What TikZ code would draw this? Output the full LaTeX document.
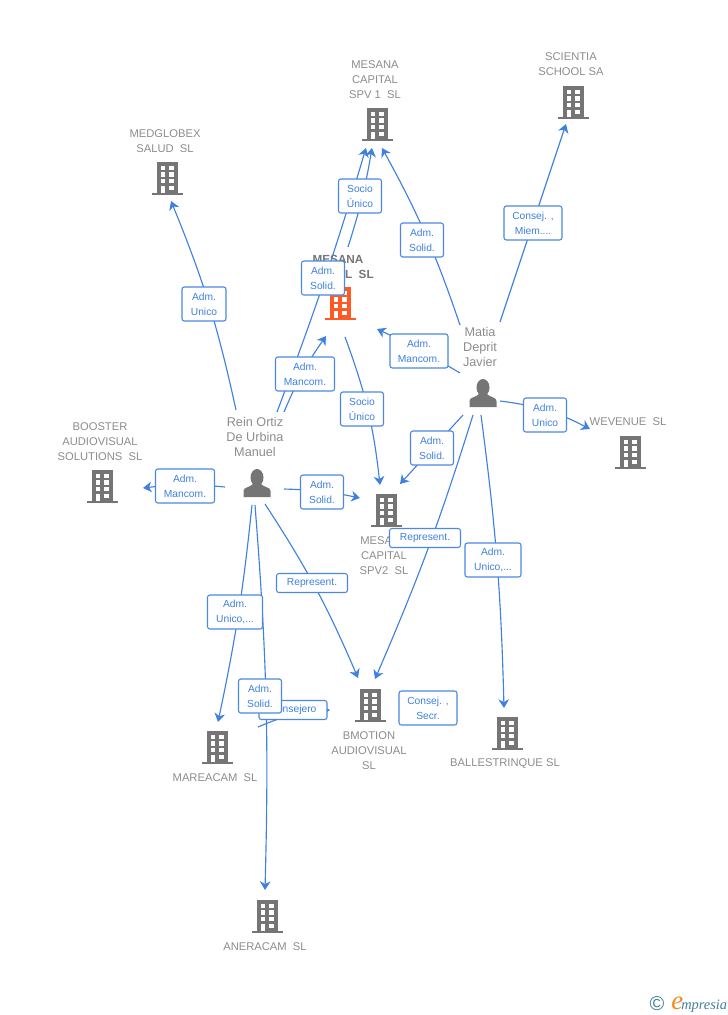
\documentclass[tikz,border=0pt]{standalone}
\usepackage{fontspec}
\setmainfont{Liberation Sans}
\newfontfamily\logoserif{Liberation Serif}
\usetikzlibrary{arrows.meta}
\definecolor{iconGray}{HTML}{757575}
\definecolor{nameGray}{HTML}{8C8C8C}
\definecolor{linkBlue}{HTML}{3F80E0}
\definecolor{boxBlue}{HTML}{4A88E2}
\definecolor{mainOrange}{HTML}{FF5A26}
\definecolor{logoTeal}{HTML}{3E7F9C}
\definecolor{logoOrange}{HTML}{F08A1E}
\tikzset{
    bldgnode/.style={minimum width=23.25pt, minimum height=25.5pt, inner sep=0pt},
    persnode/.style={minimum width=21pt, minimum height=21pt, inner sep=0pt},
    nametxt/.style={text=nameGray, align=center, inner sep=0pt, font=\fontsize{8.4}{11.25}\selectfont},
    perstxt/.style={text=nameGray, align=center, inner sep=0pt, font=\fontsize{9.5}{11.25}\selectfont},
    maintxt/.style={text=iconGray, align=center, inner sep=0pt, font=\fontsize{8.8}{11.25}\selectfont\bfseries},
    link/.style={draw=linkBlue, line width=.85pt, -{Stealth[length=6.5pt,width=8pt,inset=2pt]}},
    rolebox/.style={draw=boxBlue, fill=white, line width=.8pt, rounded corners=1.8pt, inner sep=0pt, align=center,
        text=linkBlue, minimum width=#1*.75pt, minimum height=25.5pt, font=\fontsize{7.7}{11.25}\selectfont},
    rolebar/.style={rolebox=#1, minimum height=14.25pt},
    pics/bldg/.style={code={
        \fill[#1] (-15.5,14.5) rectangle (15.5,17);
        \fill[#1] (-10.5,-16) rectangle (10.5,14.5);
        \foreach \wy in {-12.5,-5.7,1} {
            \fill[white] (-6.4,\wy) rectangle ++(4.4,4.4);
            \fill[white] (2.3,\wy) rectangle ++(4.4,4.4);
        }
        \fill[white] (-6.4,7.7) rectangle (-2,14.5);
        \fill[white] (2.3,7.7) rectangle ++(4.4,4.4);
    }},
    pics/pers/.style={code={
        \fill[iconGray] (0,-5.5) ellipse (6.5 and 8.5);
        \fill[iconGray] (-13.5,14) -- (-13.5,8) .. controls (-13.5,4) and (-7,4.5) .. (-4,1)
            -- (4,1) .. controls (7,4.5) and (13.5,4) .. (13.5,8) -- (13.5,14) -- cycle;
    }},
}
\begin{document}
\begin{tikzpicture}[x=.75pt, y=-.75pt]
    \useasboundingbox (0,0) rectangle (728,1015);
    % Companies and persons
    \foreach \nam/\px/\py in {medglobex/167/178, spvone/377/124, scientia/573/102, booster/102/486, wevenue/630/452,
        spvtwo/386/510, bmotion/370/705, ballest/507/733, mareacam/217/747, aneracam/267/916} {
        \node[bldgnode] (\nam) at (\px,\py) {};
        \pic at (\px,\py) {bldg=iconGray};
    }
    \node[bldgnode] (mesana) at (340,303) {};
    \pic at (340,303) {bldg=mainOrange};
    \node[persnode] (rein) at (257,483) {};
    \pic at (257,483) {pers};
    \node[persnode] (matia) at (483,393) {};
    \pic at (483,393) {pers};

    % Names
    \node[nametxt] (spvonetxt) at (375,80) {MESANA\\CAPITAL\\SPV 1~ SL};
    \node[nametxt] (scientiatxt) at (571,64.5) {SCIENTIA\\SCHOOL SA};
    \node[nametxt] (medglobextxt) at (165,141.5) {MEDGLOBEX\\SALUD~ SL};
    \node[maintxt] (mesanatxt) at (338,266.5) {MESANA\\CAPITAL~ SL};
    \node[perstxt] (reintxt) at (255,437) {Rein Ortiz\\De Urbina\\Manuel};
    \node[perstxt] (matiatxt) at (480,347) {Matia\\Deprit\\Javier};
    \node[nametxt] (boostertxt) at (100,442) {BOOSTER\\AUDIOVISUAL\\SOLUTIONS~ SL};
    \node[nametxt] (wevenuetxt) at (628,422) {WEVENUE~ SL};
    \node[nametxt] (spvtwotxt) at (384,556) {MESANA\\CAPITAL\\SPV2~ SL};
    \node[nametxt] (bmotiontxt) at (369,751) {BMOTION\\AUDIOVISUAL\\SL};
    \node[nametxt] (ballesttxt) at (505,764) {BALLESTRINQUE SL};
    \node[nametxt] (mareacamtxt) at (215,778) {MAREACAM~ SL};
    \node[nametxt] (aneracamtxt) at (265,947) {ANERACAM~ SL};

    % Connectors from Rein
    \draw[link] ([shift={(-21,-73)}]rein.center) to[bend right=5] ([shift={(4,23)}]medglobex.center);
    \draw[link] ([shift={(20,-71)}]rein.center) to[bend right=2] ([shift={(-11,24)}]spvone.center);
    \draw[link] ([shift={(27,-71)}]rein.center) to[bend left=6] ([shift={(-14,33)}]mesana.center);
    \draw[link] ([shift={(-32,4)}]rein.center) to[bend right=6] ([shift={(41,2)}]booster.center);
    \draw[link] ([shift={(27,6)}]rein.center) to[bend left=5] ([shift={(-26,-12)}]spvtwo.center);
    \draw[link] ([shift={(8,21)}]rein.center) to[bend left=5] ([shift={(-12,-27)}]bmotion.center);
    \draw[link] ([shift={(-5,22)}]rein.center) to[bend left=3] ([shift={(1,-25)}]mareacam.center);
    \draw[link] ([shift={(-2,22)}]rein.center) to[bend left=3] ([shift={(-2,-26)}]aneracam.center);
    % Connectors from Matia
    \draw[link] ([shift={(-23,-68)}]matia.center) to[bend right=5] ([shift={(5,24)}]spvone.center);
    \draw[link] ([shift={(17,-71)}]matia.center) to ([shift={(-7,22)}]scientia.center);
    \draw[link] ([shift={(-23,-20)}]matia.center) to[bend right=3] ([shift={(37,26)}]mesana.center);
    \draw[link] ([shift={(-20,22)}]matia.center) to ([shift={(14,-26)}]spvtwo.center);
    \draw[link] ([shift={(17,8)}]matia.center) to[bend left=10] ([shift={(-40,-23)}]wevenue.center);
    \draw[link] ([shift={(-10,22)}]matia.center) to[bend left=3] ([shift={(5,-26)}]bmotion.center);
    \draw[link] ([shift={(-2,22)}]matia.center) to[bend left=3] ([shift={(-3,-25)}]ballest.center);
    % Connectors between companies
    \draw[link] ([shift={(8,-56)}]mesana.center) to[bend right=4] ([shift={(-5,24)}]spvone.center);
    \draw[link] ([shift={(5,34)}]mesana.center) to[bend left=7] ([shift={(-6,-25)}]spvtwo.center);
    \draw[link] ([shift={(41,-20)}]mareacam.center) to[bend left=10] ([shift={(-40,5)}]bmotion.center);

    % Role boxes
    \node[rolebox=44] (r1) at (204,304) {Adm.\\Unico};
    \node[rolebox=43] (r2) at (360,196) {Socio\\Único};
    \node[rolebox=43] (r3) at (422,240) {Adm.\\Solid.};
    \node[rolebox=43] (r4) at (323,278) {Adm.\\Solid.};
    \node[rolebox=58] (r5) at (533,223) {Consej. ,\\Miem....};
    \node[rolebox=59] (r6) at (305,374) {Adm.\\Mancom.};
    \node[rolebox=58] (r7) at (419,351) {Adm.\\Mancom.};
    \node[rolebox=43] (r8) at (362,409) {Socio\\Único};
    \node[rolebox=43] (r9) at (432,448) {Adm.\\Solid.};
    \node[rolebox=43] (r10) at (545,415) {Adm.\\Unico};
    \node[rolebox=59] (r11) at (185,486) {Adm.\\Mancom.};
    \node[rolebox=43] (r12) at (322,492) {Adm.\\Solid.};
    \node[rolebar=71] (r13) at (425,538) {Represent.};
    \node[rolebox=56] (r14) at (493,560) {Adm.\\Unico,...};
    \node[rolebar=71] (r15) at (312,583) {Represent.};
    \node[rolebox=55] (r16) at (235,612) {Adm.\\Unico,...};
    \node[rolebox=58] (r17) at (428,708) {Consej. ,\\Secr.};
    \node[rolebar=68] (r18) at (293,710) {Consejero};
    \node[rolebox=43] (r19) at (260,696) {Adm.\\Solid.};

    % Logo
    \node[inner sep=0pt, text=logoTeal, font=\fontsize{15}{15}\selectfont] (logoc) at (657,1004) {©};
    \node[inner sep=0pt, anchor=base west, text=logoOrange, font=\fontsize{20}{20}\logoserif\itshape] (logoe) at (671,1009) {e};
    \node[inner sep=0pt, anchor=base west, text=logoTeal, font=\fontsize{10.8}{11}\logoserif\itshape] (logotxt) at (681,1009) {mpresia};
\end{tikzpicture}
\end{document}
